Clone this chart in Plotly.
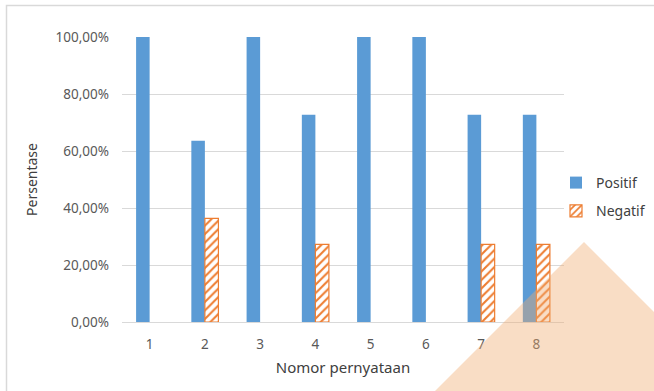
import plotly.graph_objects as go

# Survey results per statement number
categories = ["1", "2", "3", "4", "5", "6", "7", "8"]
positif = [1.0, 0.6364, 1.0, 0.7273, 1.0, 1.0, 0.7273, 0.7273]
negatif = [0.0, 0.3636, 0.0, 0.2727, 0.0, 0.0, 0.2727, 0.2727]
y_ticks = [0, 0.2, 0.4, 0.6, 0.8, 1.0]

W, H = 654, 391
L, R, T, B = 122, 90, 37, 69
pw, ph = W - L - R, H - T - B


def px(x):
    return (x - L) / pw


def py(y):
    return (H - B - y) / ph


text_color = "#595959"
font_family = "Noto Sans, Open Sans, sans-serif"

# zero-height bars draw nothing, so only non-zero ones are plotted
neg_x = [c for c, v in zip(categories, negatif) if v > 0]
neg_y = [v for v in negatif if v > 0]

fig = go.Figure()
fig.add_trace(go.Bar(
    x=categories, y=positif, name="Positif",
    marker=dict(color="#5B9BD5", line=dict(width=0)),
    legendgroup="a",
))
fig.add_trace(go.Bar(
    x=neg_x, y=neg_y, name="Negatif",
    marker=dict(
        color="white",
        line=dict(color="#ED7D31", width=1.2),
        pattern=dict(shape="/", fgcolor="#ED7D31", bgcolor="white",
                     size=6, solidity=0.35, fillmode="replace"),
    ),
    legendgroup="b",
))

shapes = [
    # chart frame
    dict(type="rect", xref="paper", yref="paper",
         x0=px(6.5), x1=px(W + 20), y0=py(5.5), y1=py(H + 20),
         line=dict(color="#d9d9d9", width=1.5), fillcolor="rgba(0,0,0,0)",
         layer="below"),
    # translucent corner triangle
    dict(type="path", xref="paper", yref="paper",
         path=f"M {px(584)} {py(242)} L {px(584 + 170)} {py(242 + 170)} "
              f"L {px(584 - 170)} {py(242 + 170)} Z",
         fillcolor="rgba(240,170,110,0.4)", line=dict(width=0),
         layer="above"),
]

fig.update_layout(
    width=W, height=H,
    margin=dict(l=L, r=R, t=T, b=B, autoexpand=False),
    paper_bgcolor="white", plot_bgcolor="white",
    separators=",.",
    barmode="group", bargap=0.51, bargroupgap=0,
    font=dict(family=font_family, color=text_color, size=13),
    showlegend=True,
    legend=dict(x=px(556), y=py(167), xanchor="left", yanchor="top",
                font=dict(size=14, color="#404040"),
                tracegroupgap=7, traceorder="grouped",
                itemwidth=30, bgcolor="rgba(0,0,0,0)"),
    shapes=shapes,
    xaxis=dict(
        type="category", categoryorder="array", categoryarray=categories,
        showgrid=False,
        showline=True, linecolor="#d9d9d9", linewidth=1,
        ticks="", ticklabelstandoff=10,
        tickfont=dict(size=13.5, color=text_color),
        title=dict(text="Nomor pernyataan", font=dict(size=15, color="#404040"),
                   standoff=10),
    ),
    yaxis=dict(
        range=[0, 1], tickvals=y_ticks, tickformat=".2%",
        showgrid=True, gridcolor="#d9d9d9", gridwidth=1,
        zeroline=False, showline=False, ticks="",
        ticklabelstandoff=12,
        tickfont=dict(size=13.5, color=text_color),
        title=dict(text="Persentase", font=dict(size=14, color="#404040"),
                   standoff=14),
    ),
)

fig.write_html("out.html")
